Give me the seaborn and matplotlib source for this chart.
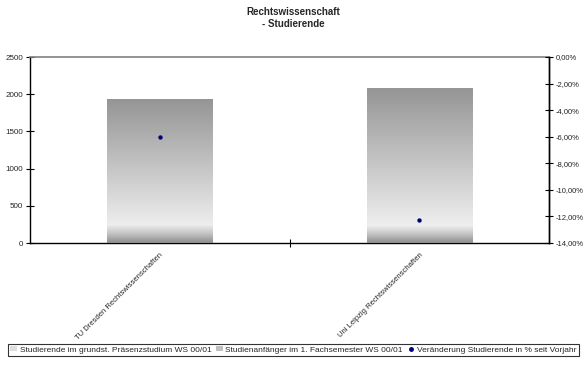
import numpy as np
import pandas as pd
import matplotlib
matplotlib.use("Agg")
import matplotlib.pyplot as plt
from matplotlib.colors import LinearSegmentedColormap
from matplotlib.patches import Patch
from matplotlib.lines import Line2D
from matplotlib.ticker import FuncFormatter
import seaborn as sns

# ---- data ----
categories = ["TU Dresden Rechtswissenschaften", "Uni Leipzig Rechtswissenschaften"]
studierende = [1935, 2080]
anfaenger = [250, 240]
veraenderung = [-6.0, -12.3]
series_names = ["Studierende im grundst. Präsenzstudium WS 00/01",
                "Studienanfänger im 1. Fachsemester WS 00/01",
                "Veränderung Studierende in % seit Vorjahr"]
title = "Rechtswissenschaft\n- Studierende"

sns.set_theme(style="white")
plt.rcParams['font.family'] = ['Liberation Sans', 'DejaVu Sans']

df = pd.DataFrame({"cat": categories, "stud": studierende,
                   "anf": anfaenger, "pct": veraenderung})

fig = plt.figure(figsize=(5.87, 3.69), dpi=100)
ax = fig.add_axes([30/587, 1-243/369, (549-30)/587, (243-57)/369])

bw = 0.405
sns.barplot(data=df, x="cat", y="stud", color="#bbbbbb", width=bw, ax=ax,
            saturation=1, zorder=2)
n_main = len(ax.patches)
sns.barplot(data=df, x="cat", y="anf", color="#cccccc", width=bw, ax=ax,
            saturation=1, zorder=3)

cmap_main = LinearSegmentedColormap.from_list("m", ["#fafafa", "#959595"])
cmap_anf = LinearSegmentedColormap.from_list("a", ["#8c8c8c", "#c4c4c4", "#f0f0f0"])
grad = np.linspace(0, 1, 256).reshape(-1, 1)
for i, p in enumerate(list(ax.patches)):
    x0, y0, w, h = p.get_x(), p.get_y(), p.get_width(), p.get_height()
    cm = cmap_main if i < n_main else cmap_anf
    ax.imshow(grad, extent=[x0, x0 + w, y0, y0 + h], origin="lower",
              aspect="auto", cmap=cm, zorder=p.get_zorder(), interpolation="bilinear")
    p.set_visible(False)

ax.set_xlim(-0.5, 1.5)
ax.set_ylim(0, 2500)
ax.set_yticks([0, 500, 1000, 1500, 2000, 2500])
ax.set_xlabel("")
ax.set_ylabel("")
ax.set_xticks([0, 1])
ax.set_xticklabels(categories, rotation=45, ha="right", rotation_mode="anchor",
                   fontsize=5.5)
ax.set_xticks([0.5], minor=True)
ax.tick_params(axis="x", which="major", length=0, pad=6)
ax.tick_params(axis="x", which="minor", length=6, width=0.8, direction="inout",
               bottom=True, color="black")
ax.tick_params(axis="y", which="major", length=6, width=0.8, direction="inout",
               left=True, labelsize=5.8, pad=2, color="black")
for s in ["left", "bottom", "right"]:
    ax.spines[s].set_color("black")
    ax.spines[s].set_linewidth(1.0)
ax.spines["top"].set_color("#808080")
ax.spines["top"].set_linewidth(1.2)
ax.grid(False)

ax2 = ax.twinx()
sns.scatterplot(data=df, x="cat", y="pct", ax=ax2, color="#000080", s=10,
                edgecolor="#000080", linewidth=0, zorder=5)
ax2.set_xlim(-0.5, 1.5)
ax2.set_ylim(-14, 0)
ax2.set_yticks(np.arange(-14, 0.1, 2))
ax2.yaxis.set_major_formatter(FuncFormatter(lambda v, p: f"{v:.2f}%".replace(".", ",")))
ax2.set_ylabel("")
ax2.set_xlabel("")
ax2.tick_params(axis="y", which="major", length=6, width=0.8, direction="inout",
                right=True, labelsize=5.5, pad=2, color="black")
for s in ax2.spines.values():
    s.set_visible(False)
ax2.spines["right"].set_visible(True)
ax2.spines["right"].set_color("black")
ax2.spines["right"].set_linewidth(1.0)
ax2.grid(False)

fig.text(0.5, 1 - 18/369, title, ha="center", va="center", fontsize=7,
         fontweight="bold", linespacing=1.25)

handles = [Patch(facecolor="#dddddd", edgecolor="none"),
           Patch(facecolor="#c0c0c0", edgecolor="none"),
           Line2D([], [], marker="o", color="#000080", linestyle="none", markersize=2.5)]
leg = fig.legend(handles, series_names, loc="center", ncol=3,
                 bbox_to_anchor=(0.5, 1 - 350/369), fontsize=6, frameon=True,
                 fancybox=False, edgecolor="black", handlelength=0.8,
                 handleheight=0.5, handletextpad=0.3, columnspacing=0.6,
                 borderpad=0.25, borderaxespad=0)
leg.get_frame().set_linewidth(0.8)

fig.savefig("out.png", dpi=100)
